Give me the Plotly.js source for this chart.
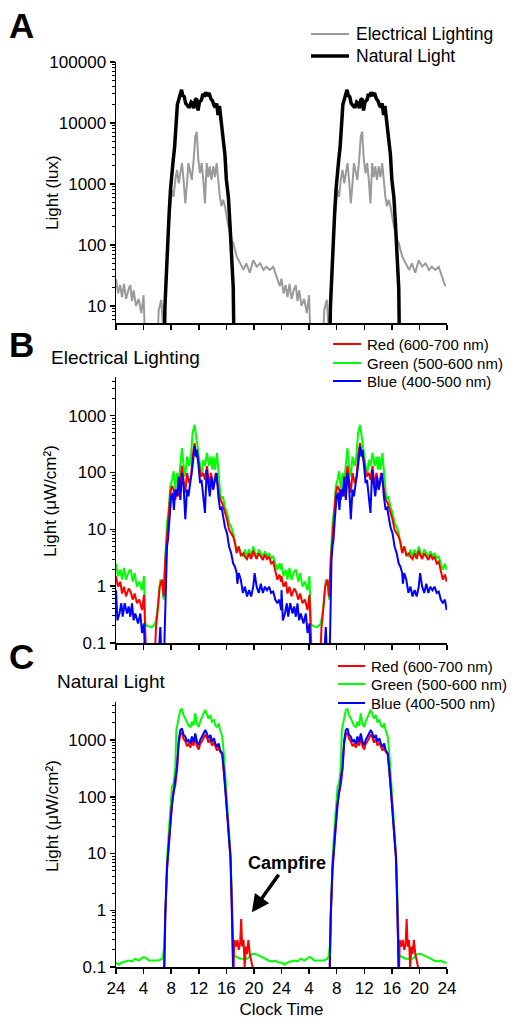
<!DOCTYPE html>
<html><head><meta charset="utf-8">
<script src="https://cdn.plot.ly/plotly-3.0.1.min.js"></script>
<style>html,body{margin:0;padding:0;background:#fff}</style>
</head><body><div id="chart" style="width:514px;height:1026px"></div>
<script>
// ---------- Tick labels ----------
const clockTickVals = [0,4,8,12,16,20,24,28,32,36,40,44,48];
const clockTickText = ['24','4','8','12','16','20','24','4','8','12','16','20','24'];

// ---------- Panel A: illuminance (lux), one day, repeated for day 2 ----------
const elecHours = [0,0.3,0.6,0.87,1.16,1.45,1.84,2.08,2.32,2.56,2.9,3.29,3.67,4.0,4.25,6.0,6.19,6.57,6.9,7.3,7.7,8.1,8.36,8.6,8.85,9.1,9.33,9.57,9.8,10.05,10.3,10.5,10.8,11.0,11.26,11.5,11.7,11.94,12.18,12.42,12.66,12.9,13.15,13.4,13.6,13.85,14.1,14.35,14.6,14.8,15.06,15.3,15.55,15.8,16.0,16.3,16.8,17.0,17.5,18.0,18.5,18.9,19.4,19.9,20.4,20.9,21.4,21.8,22.3,22.8,23.3,23.75];
const elecLux = [28,16,22,14,23,13,19,22,12,18,10,13,7.6,15,2,2,8.5,12.6,3,40,250,800,620,1170,1700,1020,1500,2200,1170,480,1020,2200,1500,1170,2500,6000,7200,2500,1500,2200,1170,480,2200,1300,1950,1170,1950,1300,2200,1170,620,430,550,430,300,200,120,107,65,50,39,50,35,56,44,50,39,44,39,44,30,21];

const natHours = [0,6.95,7.1,7.3,7.5,7.7,7.9,8.1,8.3,8.5,8.7,8.9,9.1,9.3,9.5,9.7,9.9,10.1,10.3,10.5,10.7,10.9,11.1,11.3,11.5,11.7,11.9,12.1,12.4,12.6,12.8,13.0,13.25,13.5,13.75,14.0,14.2,14.4,14.6,14.8,15.0,15.15,15.3,15.55,15.8,16.0,16.3,16.5,16.77,17.0,17.15,23.95];
const natLux = [1,1,10,40,110,320,800,1800,2500,4000,8000,20000,24000,28000,35000,28000,27000,21000,20000,18500,18500,22000,21000,17500,24000,25000,16000,22000,24000,30000,27000,32000,28000,31000,25000,23000,19500,18000,21000,13500,19000,13000,12000,6500,3000,1200,600,250,80,20,1,1];

// ---------- Panel B: electrical lighting spectrum (µW/cm²) ----------
const elecGreenHours = [0,0.29,0.63,0.87,1.16,1.45,1.84,2.13,2.42,2.7,3.04,3.38,3.77,4.06,4.25,4.5,5.2,5.7,5.95,6.19,6.43,6.67,6.9,7.15,7.4,7.64,7.88,8.12,8.36,8.6,8.85,9.09,9.33,9.57,9.8,10.05,10.3,10.63,10.9,11.1,11.4,11.6,11.9,12.18,12.42,12.66,12.9,13.2,13.5,13.77,13.97,14.16,14.35,14.64,14.94,15.2,15.5,15.8,16.1,16.4,16.7,17.0,17.25,17.5,17.8,18.1,18.4,18.7,19.0,19.3,19.6,19.9,20.1,20.4,20.7,21.0,21.3,21.6,21.9,22.2,22.5,22.8,23.1,23.4,23.7,23.95];
const elecGreen = [2.5,1.5,1.95,1.3,2.1,1.3,1.8,1.95,1.2,1.7,0.98,1.2,0.85,1.5,0.22,0.2,0.19,0.22,0.33,0.58,1.3,1.1,0.58,3.3,13,22,58,74,105,50,98,69,130,270,130,85,190,130,220,490,690,440,250,130,85,165,130,220,130,190,112,190,112,220,65,33,38,25,19.5,13,11,8.5,5.8,4.4,5.0,3.8,3.3,4.4,3.3,4.4,3.3,5.0,4.1,3.3,4.4,3.8,3.3,4.1,3.3,3.8,3.1,3.3,2.5,1.95,2.5,1.95];

const elecRedHours = [0,0.29,0.63,0.87,1.16,1.45,1.84,2.13,2.42,2.7,3.04,3.38,3.77,4.06,4.25,4.4,5.6,5.8,6.1,6.33,6.67,6.9,7.15,7.4,7.64,7.88,8.12,8.36,8.6,8.85,9.09,9.33,9.57,9.8,10.05,10.3,10.63,10.9,11.1,11.4,11.6,12.0,12.3,12.66,12.9,13.2,13.5,13.77,14.1,14.45,14.74,15.1,15.4,15.8,16.1,16.4,16.7,17.0,17.25,17.5,17.8,18.1,18.5,18.7,19.0,19.3,19.6,19.9,20.1,20.4,20.7,21.0,21.3,21.6,21.9,22.2,22.5,22.8,23.1,23.4,23.7,23.95];
const elecRed = [1.5,0.98,1.2,0.74,0.98,0.66,0.91,0.79,0.58,0.74,0.5,0.58,0.38,0.7,0.15,0.05,0.05,0.19,0.44,0.98,1.3,0.66,2.9,8.5,17,44,58,50,33,50,38,65,130,74,44,98,65,85,190,330,220,150,85,98,74,130,58,98,50,98,58,33,29,19.5,15,9.8,8.5,7.4,5.8,3.8,5.0,3.5,3.8,3.3,3.0,3.8,3.0,4.2,3.6,3.0,3.8,3.4,2.9,3.6,3.0,3.3,2.5,2.7,1.9,1.3,1.6,1.2];

const elecBlueHours = [0,0.2,0.5,0.77,0.97,1.26,1.6,1.84,2.08,2.32,2.56,2.8,3.19,3.53,3.77,4.06,4.2,6.15,6.43,6.6,6.95,7.05,7.25,7.4,7.54,7.73,8.0,8.2,8.4,8.6,8.85,9.09,9.33,9.57,9.8,10.05,10.3,10.5,10.8,11.1,11.4,11.6,11.75,12.0,12.2,12.4,12.66,12.9,13.15,13.4,13.6,13.87,14.1,14.35,14.6,14.84,15.1,15.3,15.56,15.8,16.1,16.4,16.7,17.0,17.25,17.5,17.6,17.8,18.1,18.4,18.7,19.0,19.3,19.6,19.9,20.1,20.4,20.7,21.0,21.3,21.6,21.9,22.2,22.5,22.8,23.1,23.4,23.7,23.95];
const elecBlue = [0.85,0.25,0.33,0.5,0.29,0.5,0.33,0.44,0.29,0.5,0.25,0.33,0.22,0.33,0.15,0.22,0.05,0.05,0.19,0.05,0.05,0.15,2.9,5.0,6.6,15,38,44,22,50,38,85,33,98,58,15,50,38,65,130,290,190,250,112,65,74,33,19.5,112,65,38,85,50,74,98,38,22,25,17,11,8.5,5.0,3.8,2.5,2.2,1.7,1.1,1.7,1.3,0.76,0.98,0.66,0.85,0.66,0.98,1.7,0.98,0.76,1.1,0.76,0.98,0.85,0.98,0.76,0.8,0.58,0.5,0.58,0.38];

// ---------- Panel C: natural light spectrum (µW/cm²) ----------
const natGreenHours = [0,0.4,0.87,1.35,1.84,2.3,2.8,3.3,3.77,4.0,4.25,4.74,5.2,5.7,6.19,6.67,6.8,7.0,7.15,7.4,7.64,7.88,8.12,8.36,8.6,8.75,8.94,9.09,9.33,9.57,9.8,10.05,10.3,10.5,10.8,11.0,11.26,11.5,11.74,12.0,12.2,12.47,12.7,12.95,13.2,13.4,13.7,13.9,14.2,14.4,14.65,14.9,15.1,15.4,15.6,15.85,16.1,16.3,16.6,16.8,17.0,17.06,17.5,18.0,18.5,19.0,19.33,19.7,20.2,20.7,21.2,21.65,22.1,22.6,23.1,23.6,23.95];
const natGreen = [0.12,0.11,0.12,0.125,0.13,0.125,0.14,0.13,0.14,0.15,0.148,0.13,0.13,0.13,0.13,0.14,0.15,0.23,0.9,7.8,23,51,150,175,340,1500,1950,2600,3400,3500,2750,2400,1950,1800,1700,2100,1800,2950,1950,1700,2100,2600,2950,3400,2900,2400,2750,2100,2250,1800,1700,1950,1500,1150,660,220,76,30,10,2.0,0.39,0.16,0.15,0.14,0.14,0.14,0.15,0.17,0.17,0.16,0.15,0.14,0.13,0.125,0.13,0.12,0.12];

const natRedHours = [0,6.9,7.0,7.15,7.4,7.64,7.88,8.12,8.36,8.6,8.85,9.09,9.33,9.57,9.8,10.05,10.3,10.5,10.8,11.0,11.26,11.5,11.74,12.0,12.2,12.47,12.7,12.95,13.2,13.4,13.7,13.9,14.2,14.4,14.65,14.9,15.1,15.4,15.6,15.85,16.1,16.3,16.6,16.8,17.0,17.15,17.4,17.6,17.8,18.0,18.15,18.3,18.5,18.65,18.85,19.0,19.2,19.4,19.6,19.8,20.0,23.95];
const natRed = [0.05,0.05,0.1,0.8,5.0,15,30,70,120,160,300,850,1250,1350,1050,950,780,850,740,950,800,1100,780,680,850,950,1100,1250,1100,900,1050,800,900,750,650,750,620,560,320,140,55,24,8,1.4,0.05,0.3,0.23,0.3,0.2,0.26,0.7,0.23,0.3,0.1,0.23,0.17,0.3,0.17,0.13,0.1,0.05,0.05];

const natBlueHours = [0,6.9,7.0,7.15,7.4,7.64,7.88,8.12,8.36,8.6,8.85,9.09,9.33,9.57,9.8,10.05,10.3,10.5,10.8,11.0,11.26,11.5,11.74,12.0,12.2,12.47,12.7,12.95,13.2,13.4,13.7,13.9,14.2,14.4,14.65,14.9,15.1,15.4,15.6,15.85,16.1,16.3,16.6,16.8,17.06,23.95];
const natBlue = [0.05,0.05,0.1,0.9,5.9,17,34,76,130,175,340,1000,1500,1600,1230,1150,930,1000,870,1150,930,1300,930,810,1000,1150,1300,1500,1300,1070,1230,930,1070,870,760,870,660,590,340,150,59,26,8.7,1.5,0.05,0.05];

// ---------- Legend entries ----------
const legendA = ['Electrical Lighting', 'Natural Light'];
const legendRGB = ['Red (600-700 nm)', 'Green (500-600 nm)', 'Blue (400-500 nm)'];

// ---------- helpers: the two recorded days show the same daily profile ----------
const twoDays = h => h.concat(h.map(v => v + 24));
const repeatDay = v => v.concat(v);

const FONT = 'Liberation Sans, Arial, Helvetica, sans-serif';
const BLACK = '#000000';
const GRAY = '#9a9a9a', RED = '#ff0000', GREEN = '#00ff00', BLUE = '#0000ff';

function line(hours, vals, name, color, width, xa, ya) {
  return {
    type: 'scatter', mode: 'lines', name: name, showlegend: false,
    x: twoDays(hours), y: repeatDay(vals),
    xaxis: xa, yaxis: ya,
    line: {color: color, width: width}, hoverinfo: 'skip'
  };
}

const traces = [
  line(elecHours, elecLux, legendA[0], GRAY, 2, 'x', 'y'),
  line(natHours, natLux, legendA[1], BLACK, 3.5, 'x', 'y'),
  line(elecGreenHours, elecGreen, legendRGB[1], GREEN, 2, 'x2', 'y2'),
  line(elecRedHours, elecRed, legendRGB[0], RED, 2, 'x2', 'y2'),
  line(elecBlueHours, elecBlue, legendRGB[2], BLUE, 2, 'x2', 'y2'),
  line(natGreenHours, natGreen, legendRGB[1], GREEN, 2, 'x3', 'y3'),
  line(natRedHours, natRed, legendRGB[0], RED, 2, 'x3', 'y3'),
  line(natBlueHours, natBlue, legendRGB[2], BLUE, 2, 'x3', 'y3')
];

const W = 514, H = 1026;
const px = x => x / W;
const py = y => 1 - y / H;

// minor tick positions (2..9 × 10^n) for log axes
const minorTicks = [];
for (let e = -2; e <= 5; e++) for (let d = 2; d <= 9; d++) minorTicks.push(d * Math.pow(10, e));

function xAxis(anchor, showLabels) {
  return {
    domain: [px(116), px(447)], anchor: anchor, range: [0, 48],
    tickmode: 'array', tickvals: clockTickVals, ticktext: clockTickText,
    showticklabels: showLabels, ticks: 'outside', ticklen: 5, tickwidth: 1.5, tickcolor: BLACK,
    showline: true, linecolor: BLACK, linewidth: 1.5, showgrid: false, zeroline: false,
    tickfont: {family: FONT, size: 17, color: BLACK}, fixedrange: true
  };
}
function yAxis(anchor, top, bottom, range, fmt) {
  const ax = {
    domain: [py(bottom), py(top)], anchor: anchor, type: 'log', range: range,
    dtick: 1, tick0: 0, exponentformat: 'none',
    ticks: 'outside', ticklen: 5, tickwidth: 1.5, tickcolor: BLACK,
    minor: {tickmode: 'array', tickvals: minorTicks, ticks: 'outside', ticklen: 3, tickwidth: 1, tickcolor: BLACK, showgrid: false},
    showline: true, linecolor: BLACK, linewidth: 1.5, showgrid: false, zeroline: false,
    tickfont: {family: FONT, size: 17, color: BLACK},
    fixedrange: true
  };
  if (fmt) ax.tickformat = fmt;
  return ax;
}

const xa3 = xAxis('y3', true);
xa3.title = {text: 'Clock Time', font: {family: FONT, size: 17, color: BLACK}, standoff: 6};

function label(text, x, y, size, bold, angle) {
  const a = {xref: 'paper', yref: 'paper', x: px(x), y: py(y),
    xanchor: angle ? 'center' : 'left', yanchor: 'middle',
    text: bold ? '<b>' + text + '</b>' : text, showarrow: false,
    font: {family: FONT, size: size, color: BLACK}};
  if (angle) a.textangle = angle;
  return a;
}

// hand-drawn legends (keys + labels)
const shapes = [];
const annotations = [];
function legendRow(x0, x1, y, color, width, text, textX, size) {
  shapes.push({type: 'line', xref: 'paper', yref: 'paper', x0: px(x0), x1: px(x1), y0: py(y), y1: py(y),
    line: {color: color, width: width}});
  annotations.push(label(text, textX, y, size, false));
}
legendRow(311, 349, 34, GRAY, 2, legendA[0], 354, 17.5);
legendRow(311, 349, 56, BLACK, 3.5, legendA[1], 354, 17.5);
[[RED, 344], [GREEN, 363], [BLUE, 381]].forEach((c, i) => legendRow(333, 361, c[1], c[0], 2, legendRGB[i], 365, 15));
[[RED, 666], [GREEN, 684], [BLUE, 703]].forEach((c, i) => legendRow(338, 365, c[1], c[0], 2, legendRGB[i], 369, 15));

annotations.push(
  label('A', 7, 25, 35, true),
  label('B', 7, 344, 35, true),
  label('C', 7, 656, 35, true),
  label('Electrical Lighting', 49, 358, 19, false),
  label('Natural Light', 55, 681, 19, false),
  label('Light (lux)', 52, 193, 17, false, -90),
  label('Light (μW/cm²)', 50, 501, 17, false, -90),
  label('Light (μW/cm²)', 52, 816, 17, false, -90),
  {xref: 'x3', yref: 'y3', x: 19.7, y: Math.log10(0.92), ax: 35, ay: -49,
   text: '<b>Campfire</b>', showarrow: true, arrowhead: 2, arrowsize: 1, arrowwidth: 3.5,
   arrowcolor: BLACK, font: {family: FONT, size: 18, color: BLACK}}
);

const layout = {
  width: W, height: H,
  margin: {l: 0, r: 0, t: 0, b: 0},
  paper_bgcolor: '#ffffff', plot_bgcolor: '#ffffff',
  font: {family: FONT, size: 17, color: BLACK},
  showlegend: false,
  xaxis: xAxis('y', false), xaxis2: xAxis('y2', false), xaxis3: xa3,
  yaxis: yAxis('x', 62, 323, [0.72, 5.0], 'd'),
  yaxis2: yAxis('x2', 377, 643, [-1, 3.68]),
  yaxis3: yAxis('x3', 702, 967, [-1, 3.67]),
  shapes: shapes,
  annotations: annotations
};

Plotly.newPlot('chart', traces, layout, {staticPlot: true, displayModeBar: false});
</script>
</body></html>
